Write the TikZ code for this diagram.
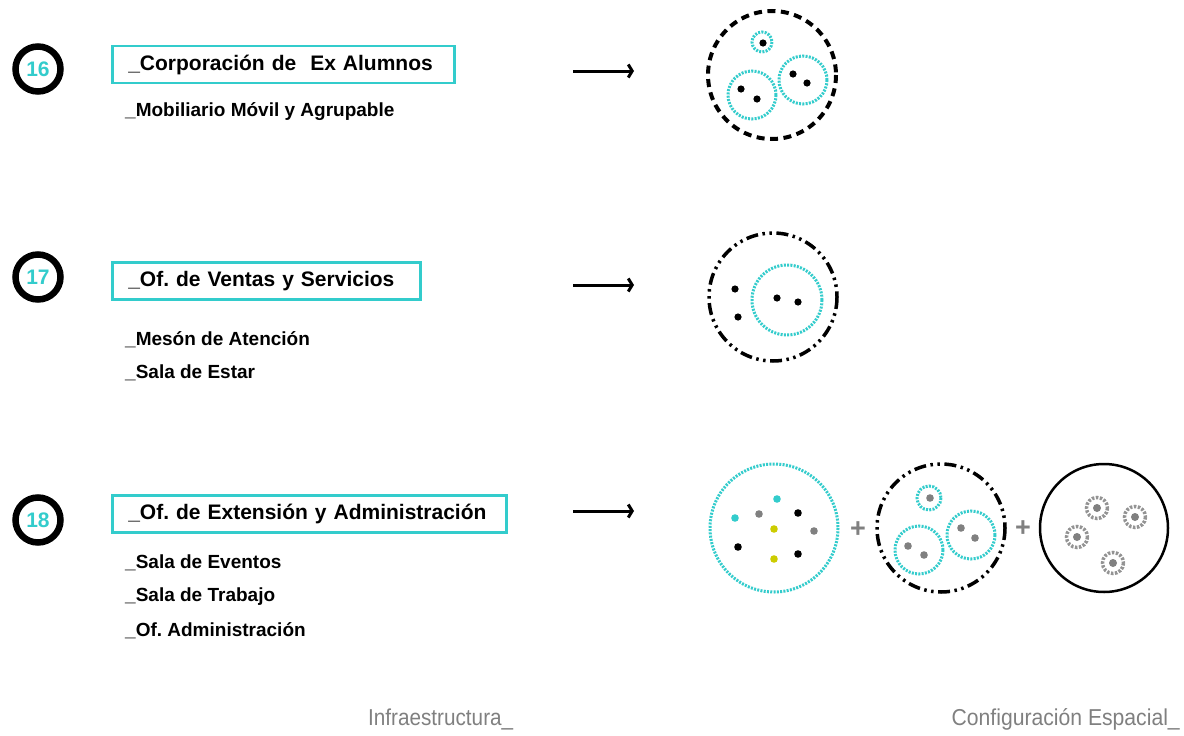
\documentclass[tikz,border=0pt]{standalone}
\usepackage{fontspec}
\setmainfont{Liberation Sans}
\usetikzlibrary{arrows.meta}
\definecolor{cy}{HTML}{33CCCC}
\definecolor{gr}{HTML}{808080}
\definecolor{yl}{HTML}{CCCC00}
\frenchspacing
\begin{document}
\begin{tikzpicture}[x=1pt,y=-1pt,
 num/.style={circle,draw=black,line width=6.5pt,minimum size=45pt,inner sep=0pt,text=cy,font=\fontsize{21}{21}\selectfont\bfseries},
 titlebox/.style={draw=cy,line width=2.5pt,anchor=west,inner xsep=16pt,minimum height=37pt,text height=15pt,text depth=4pt,font=\fontsize{21}{25}\selectfont\bfseries,align=left},
 item/.style={anchor=west,inner sep=0pt,font=\fontsize{19}{23}\selectfont\bfseries},
 arr/.style={line width=3pt,-{Straight Barb[length=4pt,width=13pt]}},
 dotc/.style={cy,line width=3pt,dash pattern=on 2pt off 1.3pt},
 dashc/.style={black,line width=4pt,dash pattern=on 8pt off 5.5pt},
 dashdot/.style={black,line width=3.5pt,dash pattern=on 12pt off 4.5pt on 2.5pt off 4.5pt on 2.5pt off 4.5pt},
 gring/.style={gr!85,line width=3.5pt,dash pattern=on 2.5pt off 1.5pt},
 caption/.style={text=gr,font=\fontsize{23}{25}\selectfont,inner sep=0pt},
 plussign/.style={text=gr,font=\fontsize{27}{27}\selectfont\bfseries,inner sep=0pt},
]
\useasboundingbox[fill=white] (0,0) rectangle (1184,736);

% ---- row 16
\node[num] (n16) at (38,69) {16};
\node[titlebox,text width=310pt] (t16) at (111,64.5) {\_Corporación de\ \ Ex Alumnos};
\node[item] (i16a) at (125,112) {\_Mobiliario Móvil y Agrupable};
\coordinate (a16s) at (573,71);
\coordinate (a16e) at (634,71);
\draw[arr] (a16s) -- (a16e);

\draw[dashc] (772,75) circle[radius=64];
\draw[dotc] (762,42) circle[radius=10];
\draw[dotc] (752,95) circle[radius=24];
\draw[dotc] (803,80) circle[radius=24];
\foreach \p in {(763,43),(741,89),(757,99),(793,74),(807,83)} \fill \p circle[radius=3.6];

% ---- row 17
\node[num] (n17) at (38,277) {17};
\node[titlebox,text width=276pt] (t17) at (111,281) {\_Of. de Ventas y Servicios};
\node[item] (i17a) at (125,340) {\_Mesón de Atención};
\node[item] (i17b) at (125,373) {\_Sala de Estar};
\coordinate (a17s) at (573,285);
\coordinate (a17e) at (634,285);
\draw[arr] (a17s) -- (a17e);

\draw[dashdot] (773,297) circle[radius=64];
\draw[dotc] (787,300) circle[radius=35];
\foreach \p in {(735,289),(738,317),(777,298),(798,302)} \fill \p circle[radius=3.6];

% ---- row 18
\node[num] (n18) at (38,520) {18};
\node[titlebox,text width=362pt] (t18) at (111,514) {\_Of. de Extensión y Administración};
\node[item] (i18a) at (125,563) {\_Sala de Eventos};
\node[item] (i18b) at (125,597) {\_Sala de Trabajo};
\node[item] (i18c) at (125,631) {\_Of. Administración};
\coordinate (a18s) at (573,511);
\coordinate (a18e) at (634,511);
\draw[arr] (a18s) -- (a18e);

% circle A
\draw[dotc] (774,528) circle[radius=64];
\foreach \p in {(777,499),(735,518)} \fill[cy] \p circle[radius=3.8];
\foreach \p in {(759,514),(814,531)} \fill[gr] \p circle[radius=3.8];
\foreach \p in {(798,513),(738,547),(798,554)} \fill \p circle[radius=3.8];
\foreach \p in {(774,529),(774,559)} \fill[yl] \p circle[radius=3.8];
\node[plussign] (plus1) at (858,530) {+};

% circle B
\draw[dashdot] (941,528) circle[radius=64];
\draw[dotc] (929,498) circle[radius=12];
\draw[dotc] (919,550) circle[radius=24];
\draw[dotc] (971,535) circle[radius=24];
\foreach \p in {(930,498),(908,546),(924,555),(961,528),(975,538)} \fill[gr] \p circle[radius=3.8];
\node[plussign] (plus2) at (1023,529) {+};

% circle C
\draw[line width=2.5pt] (1104,528) circle[radius=64];
\foreach \p in {(1097,508),(1135,517),(1077,537),(1113,563)} {
  \draw[gring] \p circle[radius=10.5];
  \fill[gr] \p circle[radius=4];
}

% captions
\node[caption,anchor=west] (capL) at (368,719) {\scalebox{0.9}[1]{Infraestructura\_}};
\node[caption,anchor=east] (capR) at (1180,719) {\scalebox{0.92}[1]{Configuración Espacial\_}};
\end{tikzpicture}
\end{document}
